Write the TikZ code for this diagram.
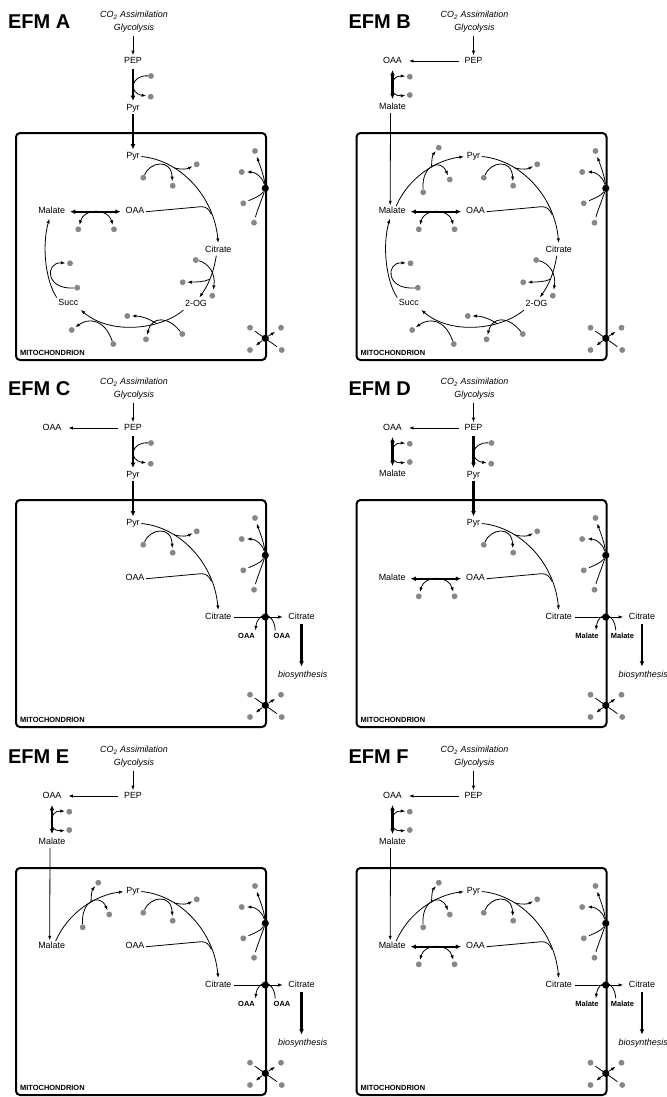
\documentclass[tikz,border=0pt]{standalone}
\usepackage{fontspec}
\setmainfont{Liberation Sans}
\usetikzlibrary{arrows.meta}
\definecolor{dotgray}{RGB}{135,135,135}

\newcommand{\lblfont}{\fontsize{6.7}{8}\selectfont}
\newcommand{\tagfont}{\fontsize{5.6}{6.5}\selectfont\bfseries}

% ── frame of every panel: header, membrane, pumps, Pyr -> Citrate ──
\newcommand{\efmframe}[1]{
  \node[ttl, anchor=west] (ttl) at (6.5,21.7) {EFM #1};
  \node[lbl, font=\lblfont\itshape] (co2) at (134,15.7) {CO\textsubscript{2} Assimilation};
  \node[lbl, font=\lblfont\itshape] (gly) at (134,28.7) {Glycolysis};
  \node[lbl] (pep) at (133,61) {PEP};
  \draw[rxn, shorten <=1pt, shorten >=0pt] (pep.north |- gly.south) -- (pep.north);
  % membrane
  \draw[membrane] (16,133) rectangle (266,360);
  \node[tag, anchor=west] (mito) at (18.5,352.7) {MITOCHONDRION};
  % upper pump
  \node[pump] (pa) at (265.3,188.3) {};
  \node[gdot] (pa1) at (255,151) {};
  \node[gdot] (pa2) at (241.7,172) {};
  \node[gdot] (pa3) at (243.3,203.3) {};
  \node[gdot] (pa4) at (254,222.7) {};
  \draw[rxn, shorten >=2pt] (pa) .. controls (264,175) and (259,163) .. (pa1);
  \draw[rxn, shorten >=1.5pt] (pa) .. controls (263,178) and (256,172) .. (pa2);
  \draw[side, shorten <=2pt] (pa3) .. controls (252,199) and (261,196) .. (pa);
  \draw[side, shorten <=2pt] (pa4) .. controls (257,211) and (262,199) .. (pa);
  % lower pump
  \node[pump] (pb) at (265.3,338.3) {};
  \node[gdot] (pb1) at (250,327.7) {};
  \node[gdot] (pb2) at (281,327.7) {};
  \node[gdot] (pb3) at (250,350) {};
  \node[gdot] (pb4) at (281.7,350) {};
  \draw[side, shorten <=2pt, shorten >=2pt] (pb1) -- (pb4);
  \draw[rxn, shorten >=3pt] (pb) -- (pb2);
  \draw[rxn, shorten >=3pt] (pb) -- (pb3);
  % Pyr -> Citrate, OAA joins
  \node[lbl] (pyri) at (133,156.5) {Pyr};
  \node[lbl] (cit) at (218.3,250) {Citrate};
  \node[lbl] (oaai) at (135,211.7) {OAA};
  \draw[rxn] (pyri.east) .. controls (180,160) and (214,196) .. (cit.north)
    coordinate[pos=0.3] (pcm) coordinate[pos=0.78] (oaam);
  \node[gdot] (pc1) at (143.3,177.7) {};
  \node[gdot] (pc2) at (172.7,185.7) {};
  \node[gdot] (pc3) at (196.7,164.3) {};
  \draw[rxn] (pc1) .. controls (150,162) and (171,158) .. (pc2);
  \draw[rxn] (pcm) .. controls (183,170) and (187,169) .. (pc3);
  \draw[side] (oaai.east) -- (201,206.7) .. controls (206,206.5) and (209,209) .. (oaam);
}

% ── PEP -> Pyr, import into the mitochondrion ──
\newcommand{\pyrimport}{
  \node[lbl] (pyro) at (133,108) {Pyr};
  \draw[bigrxn, shorten <=2pt, shorten >=1pt] (pep) -- (pyro);
  \node[gdot] (pd1) at (151,76) {};
  \node[gdot] (pd2) at (150.7,96.7) {};
  \draw[rxn] (pd1) .. controls (131,75) and (128,93) .. (pd2);
  \draw[bigrxn, shorten >=1pt] (pyro) -- (pyri);
}

% ── PEP -> OAA in the cytosol ──
\newcommand{\oaaout}{
  \node[lbl] (oaao) at (52,61) {OAA};
  \draw[rxn, shorten <=3pt, shorten >=4pt] (pep) -- (oaao);
}

% ── OAA <-> Malate in the cytosol ──
\newcommand{\malout}{
  \node[lbl] (malo) at (52,107.5) {Malate};
  \draw[bigrxn, <->, shorten <=2.5pt, shorten >=2pt] (oaao) -- (malo);
  \node[gdot] (pe1) at (69.3,76.7) {};
  \node[gdot] (pe2) at (69.3,95) {};
  \draw[rxn, <->, shorten <=1pt] (pe1) .. controls (49,75) and (47,97) .. (pe2);
}

\newcommand{\innermal}{
  \node[lbl] (mali) at (51.7,211.7) {Malate};
}

% ── Malate import ──
\newcommand{\malin}{
  \draw[rxn, shorten >=0.5pt] ([xshift=-1.5pt]malo.south) -- ([xshift=-1.5pt]mali.north);
}

% ── Malate <-> OAA in the matrix ──
\newcommand{\malaoaa}{
  \draw[bigrxn, <->, shorten <=2.5pt, shorten >=2.5pt] (mali) -- (oaai);
  \node[gdot] (pf1) at (78.3,229.3) {};
  \node[gdot] (pf2) at (114,229.3) {};
  \draw[rxn, <->, shorten <=1pt] (pf1) .. controls (84,208) and (108,208) .. (pf2);
}

% ── Malate -> Pyr (malic enzyme) ──
\newcommand{\malpyr}{
  \draw[rxn] ([xshift=3pt]mali.north) .. controls (68,178) and (95,160) .. (pyri.west)
    coordinate[pos=0.6] (pgm);
  \node[gdot] (pg1) at (98.3,147.7) {};
  \node[gdot] (pg2) at (82.7,192.3) {};
  \node[gdot] (pg3) at (109.3,179.5) {};
  \draw[rxn] (pgm) .. controls (91,160) and (92,155) .. (pg1);
  \draw[rxn] (pg2) .. controls (81,165) and (100,158) .. (pg3);
}

% ── Citrate export, counter ion #1 ──
\newcommand{\citexport}[1]{
  \node[pump] (pt) at (265.3,250) {};
  \node[lbl] (cito) at (301.5,250) {Citrate};
  \draw[rxn, shorten <=1pt, shorten >=3pt] (cit) -- (cito);
  \node[tag] (cx1) at (246.5,269) {#1};
  \node[tag] (cx2) at (282,269) {#1};
  \draw[rxn, shorten <=1pt] ([xshift=-5pt]cx2.north) .. controls (274,244) and (258,244) .. ([xshift=6.5pt]cx1.north);
  \node[lbl, font=\lblfont\itshape] (bios) at (302.7,308) {biosynthesis};
  \draw[bigrxn, shorten <=1pt, shorten >=2pt] (cito) -- (cito |- bios.north);
}

% ── Citrate -> 2-OG -> Succ -> Malate ──
\newcommand{\tcacycle}{
  \node[lbl] (og) at (196,304.3) {2-OG};
  \node[lbl] (suc) at (68.3,303.3) {Succ};
  % Citrate -> 2-OG
  \draw[rxn] ([xshift=-1.5pt]cit.south) .. controls (213,275) and (208,285) .. ([xshift=2pt]og.north)
    coordinate[pos=0.5] (phm);
  \node[gdot] (ph1) at (195.7,260) {};
  \node[gdot] (ph2) at (212.3,295.7) {};
  \node[gdot] (ph3) at (182.7,282.3) {};
  \draw[rxn, shorten >=2pt] (ph1) .. controls (208,263) and (216,273) .. (ph2);
  \draw[rxn] (phm) .. controls (204,282) and (196,282) .. (ph3);
  % 2-OG -> Succ
  \draw[rxn] (og.south west) .. controls (160,330) and (110,335) .. (suc.south east)
    coordinate[pos=0.3] (pim);
  \node[gdot] (pi1) at (182.3,334) {};
  \node[gdot] (pi2) at (146,339.3) {};
  \node[gdot] (pi3) at (127.3,316) {};
  \node[gdot] (pj1) at (113.3,344) {};
  \node[gdot] (pj2) at (71.7,330) {};
  \draw[rxn] (pi1) .. controls (168,316) and (152,316) .. (pi2);
  \draw[rxn] (pim) .. controls (148,318) and (140,316) .. (pi3);
  \draw[rxn] (pj1) .. controls (104,318) and (88,318) .. (pj2);
  % Succ -> Malate
  \draw[rxn] (suc.north west) .. controls (45,280) and (42,245) .. ([xshift=-1.5pt]mali.south);
  \node[gdot] (pk1) at (77.3,287.7) {};
  \node[gdot] (pk2) at (70,263.3) {};
  \draw[rxn] (pk1) .. controls (45,290) and (45,262) .. (pk2);
}

\begin{document}
\begin{tikzpicture}[
  x=0.75pt, y=-0.75pt,
  >={Latex[length=3.4pt,width=2.5pt]},
  lbl/.style={font=\lblfont, inner sep=1pt, text height=4.8pt, text depth=1.4pt},
  tag/.style={font=\tagfont, inner sep=1pt},
  ttl/.style={font=\fontsize{15}{17}\selectfont\bfseries, inner sep=1pt},
  gdot/.style={circle, fill=dotgray, inner sep=0pt, minimum size=4.4pt},
  pump/.style={circle, fill=black, inner sep=0pt, minimum size=5.4pt},
  rxn/.style={line width=0.6pt, ->, shorten >=1pt},
  side/.style={line width=0.6pt},
  bigrxn/.style={line width=1.6pt, >={Latex[length=4pt,width=3.6pt]}, ->},
  membrane/.style={line width=1.5pt, rounded corners=3pt},
]
\useasboundingbox (0,0) rectangle (667,1097);

%% ─── panels: 2 columns x 3 rows ───────────────────────────
%%  column shift 340.5 px, row shift 367 px

% ── EFM A ───────────────────────────────────────────────────
\begin{scope}
  \efmframe{A}
  \pyrimport
  \innermal
  \malaoaa
  \tcacycle
\end{scope}

% ── EFM B ───────────────────────────────────────────────────
\begin{scope}[shift={(340.5,0)}]
  \efmframe{B}
  \oaaout
  \malout
  \innermal
  \malin
  \malpyr
  \malaoaa
  \tcacycle
\end{scope}

% ── EFM C ───────────────────────────────────────────────────
\begin{scope}[shift={(0,367)}]
  \efmframe{C}
  \pyrimport
  \oaaout
  \citexport{OAA}
\end{scope}

% ── EFM D ───────────────────────────────────────────────────
\begin{scope}[shift={(340.5,367)}]
  \efmframe{D}
  \pyrimport
  \oaaout
  \malout
  \innermal
  \malaoaa
  \citexport{Malate}
\end{scope}

% ── EFM E ───────────────────────────────────────────────────
\begin{scope}[shift={(0,735)}]
  \efmframe{E}
  \oaaout
  \malout
  \innermal
  \malin
  \malpyr
  \citexport{OAA}
\end{scope}

% ── EFM F ───────────────────────────────────────────────────
\begin{scope}[shift={(340.5,735)}]
  \efmframe{F}
  \oaaout
  \malout
  \innermal
  \malin
  \malpyr
  \malaoaa
  \citexport{Malate}
\end{scope}

\end{tikzpicture}
\end{document}
